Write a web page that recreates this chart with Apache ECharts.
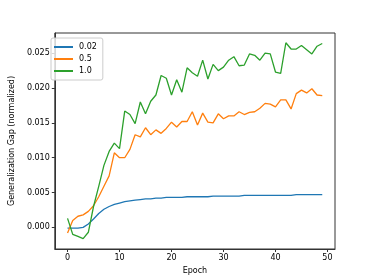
<!DOCTYPE html>
<html>
<head>
<meta charset="utf-8">
<script src="https://cdn.jsdelivr.net/npm/echarts@6/dist/echarts.min.js"></script>
<style>html,body{margin:0;padding:0;background:#fff}#c{width:373px;height:280px}</style>
</head>
<body>
<div id="c"></div>
<script>
const epochs = Array.from({length: 50}, (_, i) => i);
const seriesNames = ['0.02', '0.5', '1.0'];
const gap002 = [-0.0001, -0.0001, -0.0001, 0.0000, 0.0005, 0.0012, 0.0020, 0.0026, 0.0030, 0.0033,
  0.0035, 0.0037, 0.0038, 0.0039, 0.0040, 0.0041, 0.0041, 0.0042, 0.0042, 0.0043,
  0.0043, 0.0043, 0.0043, 0.0044, 0.0044, 0.0044, 0.0044, 0.0044, 0.0045, 0.0045,
  0.0045, 0.0045, 0.0045, 0.0045, 0.0046, 0.0046, 0.0046, 0.0046, 0.0046, 0.0046,
  0.0046, 0.0046, 0.0046, 0.0046, 0.0047, 0.0047, 0.0047, 0.0047, 0.0047, 0.0047];
const gap05 = [-0.0008, 0.0010, 0.0016, 0.0018, 0.0023, 0.0031, 0.0044, 0.0059, 0.0074, 0.0107,
  0.0100, 0.0100, 0.0112, 0.0133, 0.0130, 0.0143, 0.0133, 0.0140, 0.0135, 0.0142,
  0.0151, 0.0144, 0.0152, 0.0152, 0.0166, 0.0147, 0.0164, 0.0151, 0.0150, 0.0163,
  0.0156, 0.0160, 0.0160, 0.0166, 0.0162, 0.0165, 0.0166, 0.0171, 0.0178, 0.0177,
  0.0173, 0.0183, 0.0183, 0.0170, 0.0192, 0.0197, 0.0193, 0.0199, 0.0190, 0.0189];
const gap10 = [0.0013, -0.0010, -0.0013, -0.0016, -0.0007, 0.0030, 0.0059, 0.0089, 0.0109, 0.0121,
  0.0113, 0.0167, 0.0162, 0.0149, 0.0180, 0.0163, 0.0181, 0.0190, 0.0218, 0.0214,
  0.0190, 0.0212, 0.0194, 0.0229, 0.0222, 0.0217, 0.0240, 0.0213, 0.0234, 0.0225,
  0.0230, 0.0240, 0.0245, 0.0232, 0.0233, 0.0249, 0.0247, 0.0240, 0.0250, 0.0249,
  0.0223, 0.0221, 0.0265, 0.0256, 0.0256, 0.0261, 0.0255, 0.0249, 0.0260, 0.0264];
const xTicks = [0, 10, 20, 30, 40, 50];
const yTicks = [0, 0.005, 0.010, 0.015, 0.020, 0.025];
const colors = ['#1f77b4', '#ff7f0e', '#2ca02c'];
const allData = [gap002, gap05, gap10];

const font = 'DejaVu Sans';
const chart = echarts.init(document.getElementById('c'), null, {renderer: 'canvas'});
chart.setOption({
  animation: false,
  color: colors,
  grid: {left: 46, right: 38, top: 33, bottom: 31, show: true, borderColor: '#333', borderWidth: 1},
  legend: {
    orient: 'vertical', left: 51, top: 38,
    data: seriesNames,
    icon: 'rect', itemWidth: 19, itemHeight: 2, itemGap: 2,
    padding: [4, 6, 4, 3],
    borderColor: '#ccc', borderWidth: 1, borderRadius: 2,
    backgroundColor: 'rgba(255,255,255,0.8)',
    textStyle: {fontFamily: font, fontSize: 8, color: '#000', lineHeight: 10, padding: [0,0,0,1]}
  },
  xAxis: {
    type: 'value', min: -2.45, max: 51.45,
    name: 'Epoch', nameLocation: 'middle', nameGap: 17,
    nameTextStyle: {fontFamily: font, fontSize: 8, color: '#000'},
    axisLine: {show: true, onZero: false, lineStyle: {color: '#333', width: 1}},
    axisTick: {show: true, customValues: xTicks, length: 3, lineStyle: {color: '#333'}},
    axisLabel: {customValues: xTicks, fontFamily: font, fontSize: 8, color: '#000', margin: 5},
    splitLine: {show: false}
  },
  yAxis: {
    type: 'value', min: -0.0031, max: 0.0279,
    name: 'Generalization Gap (normalized)', nameLocation: 'middle', nameGap: 34,
    nameTextStyle: {fontFamily: font, fontSize: 8, color: '#000'},
    axisLine: {show: true, onZero: false, lineStyle: {color: '#333', width: 1}},
    axisTick: {show: true, customValues: yTicks, length: 3, lineStyle: {color: '#333'}},
    axisLabel: {customValues: yTicks, fontFamily: font, fontSize: 8, color: '#000', margin: 5,
      formatter: v => v.toFixed(3)},
    splitLine: {show: false}
  },
  series: seriesNames.map((n, k) => ({
    name: n, type: 'line', showSymbol: false, symbol: 'none',
    lineStyle: {width: 1.3, color: colors[k]},
    itemStyle: {color: colors[k]},
    data: epochs.map((e, i) => [e, allData[k][i]])
  }))
});
</script>
</body>
</html>
